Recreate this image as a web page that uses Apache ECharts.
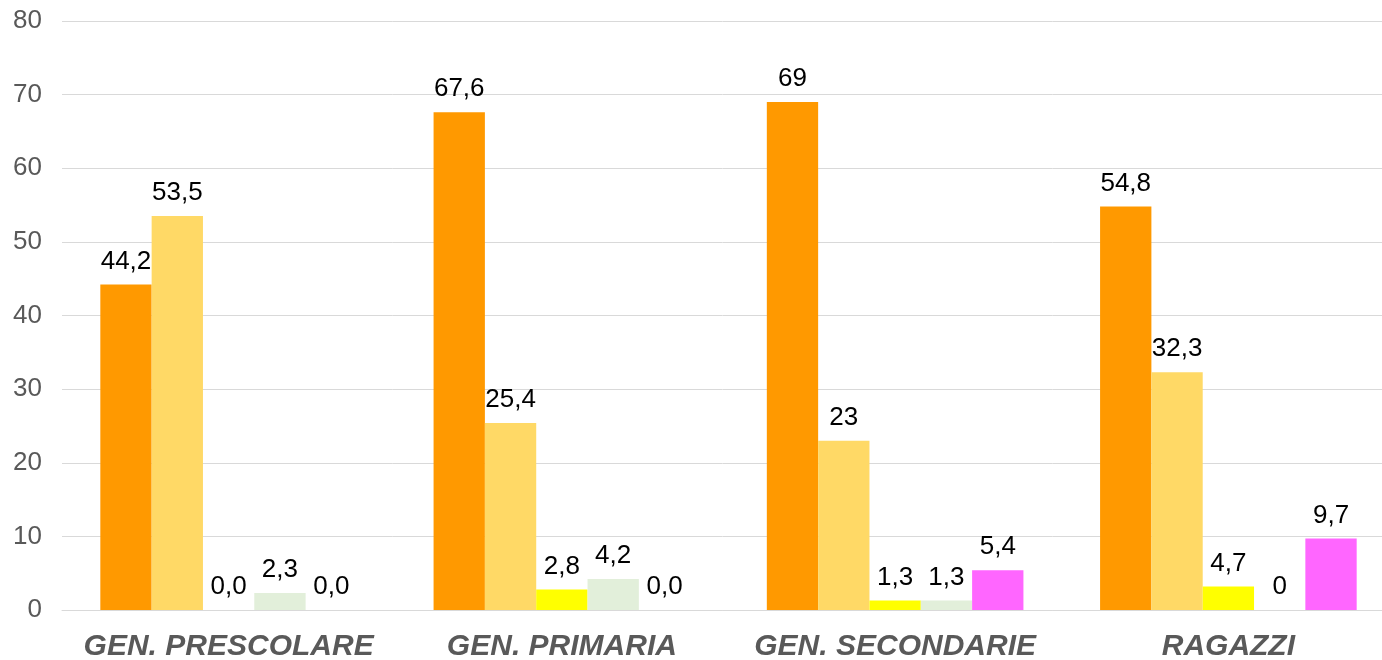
<!DOCTYPE html>
<html><head><meta charset="utf-8">
<script src="https://cdn.jsdelivr.net/npm/echarts@6/dist/echarts.min.js"></script>
<style>html,body{margin:0;padding:0;background:#fff}#c{width:1382px;height:660px}</style>
</head><body><div id="c"></div>
<script>
const categories = ['GEN. PRESCOLARE', 'GEN. PRIMARIA', 'GEN. SECONDARIE', 'RAGAZZI'];
const yTicks = [0, 10, 20, 30, 40, 50, 60, 70, 80];
const seriesNames = ['S1', 'S2', 'S3', 'S4', 'S5'];
const s1Values = [44.2, 67.6, 69, 54.8];
const s2Values = [53.5, 25.4, 23, 32.3];
const s3Values = [0, 2.8, 1.3, 3.2];
const s4Values = [2.3, 4.2, 1.3, 0];
const s5Values = [0, 0, 5.4, 9.7];
const s1Labels = ['44,2', '67,6', '69', '54,8'];
const s2Labels = ['53,5', '25,4', '23', '32,3'];
const s3Labels = ['0,0', '2,8', '1,3', '4,7'];
const s4Labels = ['2,3', '4,2', '1,3', '0'];
const s5Labels = ['0,0', '0,0', '5,4', '9,7'];

const colors = ['#FF9900', '#FFD966', '#FFFF00', '#E2EFDA', '#FF66FF'];
const valuesAll = [s1Values, s2Values, s3Values, s4Values, s5Values];
const labelsAll = [s1Labels, s2Labels, s3Labels, s4Labels, s5Labels];
const FONT = '"Liberation Sans", Arial, sans-serif';

const chart = echarts.init(document.getElementById('c'));
chart.setOption({
  animation: false,
  grid: { left: 62, width: 1333, top: 21, bottom: 50, containLabel: false, outerBoundsMode: 'none' },
  xAxis: {
    type: 'category', data: categories,
    axisLine: { show: true, lineStyle: { color: '#d9d9d9', width: 1 } },
    axisTick: { show: false },
    axisLabel: { color: '#595959', fontFamily: FONT, fontSize: 30, fontWeight: 'bold', fontStyle: 'italic', margin: 22, interval: 0 }
  },
  yAxis: {
    type: 'value', min: yTicks[0], max: yTicks[yTicks.length - 1], interval: 10,
    axisLine: { show: false }, axisTick: { show: false },
    splitLine: { lineStyle: { color: '#d9d9d9', width: 1 } },
    axisLabel: { color: '#595959', fontFamily: FONT, fontSize: 26, margin: 20 }
  },
  series: seriesNames.map((n, i) => ({
    name: n, type: 'bar',
    data: valuesAll[i],
    barGap: 0, barCategoryGap: '23%',
    itemStyle: { color: colors[i] },
    label: {
      show: true, position: 'top', distance: 10,
      color: '#000', fontFamily: FONT, fontSize: 26,
      formatter: p => labelsAll[i][p.dataIndex]
    }
  }))
});
</script></body></html>
